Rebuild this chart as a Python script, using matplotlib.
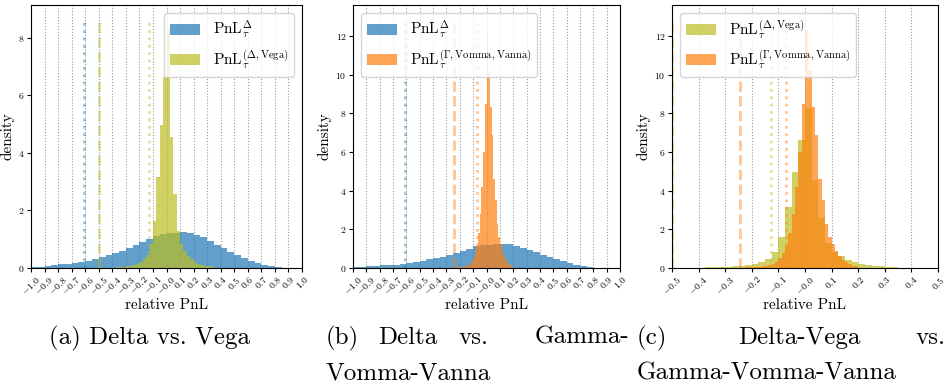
import numpy as np
import matplotlib
matplotlib.use("Agg")
import matplotlib.pyplot as plt

plt.rcParams["font.family"] = "serif"
plt.rcParams["font.serif"] = ["cmr10"]
plt.rcParams["mathtext.fontset"] = "cm"
plt.rcParams["axes.unicode_minus"] = False

# PnL^Delta histogram (bin width 0.05)
delta_edges = np.round(np.arange(-1.0, 0.8501, 0.05), 4)
delta_dens = [0.05, 0.05, 0.08, 0.09, 0.13, 0.15, 0.18, 0.22, 0.25, 0.30,
              0.37, 0.44, 0.52, 0.59, 0.69, 0.79, 0.89, 1.00, 1.12, 1.18,
              1.21, 1.23, 1.25, 1.23, 1.16, 1.06, 0.94, 0.81, 0.69, 0.57,
              0.45, 0.34, 0.24, 0.16, 0.10, 0.06, 0.02]

# PnL^(Delta,Vega) histogram (bin width 0.025)
vega_edges = np.round(np.arange(-0.375, 0.3501, 0.025), 4)
vega_dens = [0.03, 0.05, 0.05, 0.06, 0.08, 0.10, 0.15, 0.22, 0.30, 0.45,
             0.82, 1.62, 3.17, 4.97, 6.62, 8.28, 4.54, 2.58, 1.30, 0.85,
             0.60, 0.42, 0.30, 0.20, 0.14, 0.10, 0.08, 0.06, 0.03]

# PnL^(Gamma,Vomma,Vanna) histogram (bin width 0.0125)
gvv_edges = np.round(np.arange(-0.25, 0.2001, 0.0125), 5)
gvv_dens = [0.02, 0.02, 0.03, 0.03, 0.04, 0.05, 0.06, 0.08, 0.10, 0.15,
            0.22, 0.32, 0.50, 0.75, 1.15, 1.80, 2.80, 4.20, 6.00, 8.50,
            12.30, 10.20, 8.30, 6.90, 4.60, 3.50, 2.30, 1.60, 1.25, 0.90,
            0.60, 0.40, 0.30, 0.20, 0.12, 0.08]

# risk measures: dotted / dashed vertical markers
delta_dotted = -0.61
vega_dotted, vega_dashed = -0.127, -0.50
gvv_dotted, gvv_dashed = -0.072, -0.243

xticks_wide = np.round(np.arange(-1.0, 1.001, 0.1), 1)
xticks_narrow = np.round(np.arange(-0.5, 0.501, 0.1), 1)

C_BLUE, C_YEL, C_ORA = "#1f77b4", "#bcbd22", "#ff7f0e"
lab_delta = r"$\mathrm{PnL}_\tau^{\Delta}$"
lab_vega = r"$\mathrm{PnL}_\tau^{(\Delta,\mathrm{Vega})}$"
lab_gvv = r"$\mathrm{PnL}_\tau^{(\Gamma,\mathrm{Vomma},\mathrm{Vanna})}$"

W, H = 948, 389
fig = plt.figure(figsize=(W / 100, H / 100), dpi=100)


def px_axes(l, r, t, b):
    return fig.add_axes([l / W, 1 - b / H, (r - l) / W, (b - t) / H])


def style(ax, xt, yt, ytop):
    ax.set_xlim(xt[0], xt[-1])
    ax.set_ylim(0, ytop)
    ax.set_xticks(xt)
    ax.set_xticklabels([f"${v:.1f}$" for v in xt], rotation=45, fontsize=7)
    ax.set_yticks(yt)
    ax.set_yticklabels([f"${v}$" for v in yt], fontsize=7)
    ax.tick_params(length=3, width=0.8, pad=1.5)
    ax.grid(axis="x", ls=":", color="gray", lw=0.8, alpha=0.8)
    ax.set_axisbelow(True)
    ax.set_xlabel("relative PnL", fontsize=11, labelpad=1)
    ax.set_ylabel("density", fontsize=11, labelpad=3)


def vline(ax, x, c, ls):
    ax.axvline(x, ymax=0.95, color=c, ls=ls, lw=2, alpha=0.45)


# (a)
ax = px_axes(31, 302, 5, 268)
ax.stairs(delta_dens, delta_edges, fill=True, color=C_BLUE, alpha=0.7, label=lab_delta)
ax.stairs(vega_dens, vega_edges, fill=True, color=C_YEL, alpha=0.7, label=lab_vega)
vline(ax, delta_dotted, C_BLUE, ":")
vline(ax, vega_dashed, C_YEL, "--")
vline(ax, vega_dotted, C_YEL, ":")
style(ax, xticks_wide, [0, 2, 4, 6, 8], 9.13)
ax.legend(loc="upper right", fontsize=11)

# (b)
ax = px_axes(353, 620, 5, 268)
ax.stairs(delta_dens, delta_edges, fill=True, color=C_BLUE, alpha=0.7, label=lab_delta)
ax.stairs(gvv_dens, gvv_edges, fill=True, color=C_ORA, alpha=0.7, label=lab_gvv)
vline(ax, delta_dotted, C_BLUE, ":")
vline(ax, gvv_dashed, C_ORA, "--")
vline(ax, gvv_dotted, C_ORA, ":")
style(ax, xticks_wide, [0, 2, 4, 6, 8, 10, 12], 13.6)
ax.legend(loc="upper left", fontsize=11)

# (c)
ax = px_axes(672, 938, 5, 268)
ax.stairs(vega_dens, vega_edges, fill=True, color=C_YEL, alpha=0.7, label=lab_vega)
ax.stairs(gvv_dens, gvv_edges, fill=True, color=C_ORA, alpha=0.7, label=lab_gvv)
vline(ax, vega_dashed, C_YEL, "--")
vline(ax, vega_dotted, C_YEL, ":")
vline(ax, gvv_dashed, C_ORA, "--")
vline(ax, gvv_dotted, C_ORA, ":")
style(ax, xticks_narrow, [0, 2, 4, 6, 8, 10, 12], 13.6)
ax.legend(loc="upper left", fontsize=11)

# sub-captions (justified like the LaTeX original)
cap = dict(fontsize=18, va="baseline")
y1, y2 = 1 - 344 / H, 1 - 380 / H
fig.text(49 / W, y1, "(a) Delta vs. Vega", ha="left", **cap)
fig.text(326 / W, y1, "(b)", ha="left", **cap)
fig.text(378 / W, y1, "Delta", ha="left", **cap)
fig.text(459 / W, y1, "vs.", ha="left", **cap)
fig.text(629 / W, y1, "Gamma-", ha="right", **cap)
fig.text(326 / W, y2, "Vomma-Vanna", ha="left", **cap)
fig.text(637 / W, y1, "(c)", ha="left", **cap)
fig.text(738 / W, y1, "Delta-Vega", ha="left", **cap)
fig.text(946 / W, y1, "vs.", ha="right", **cap)
fig.text(637 / W, y2, "Gamma-Vomma-Vanna", ha="left", **cap)

fig.savefig("out.png", dpi=100)
